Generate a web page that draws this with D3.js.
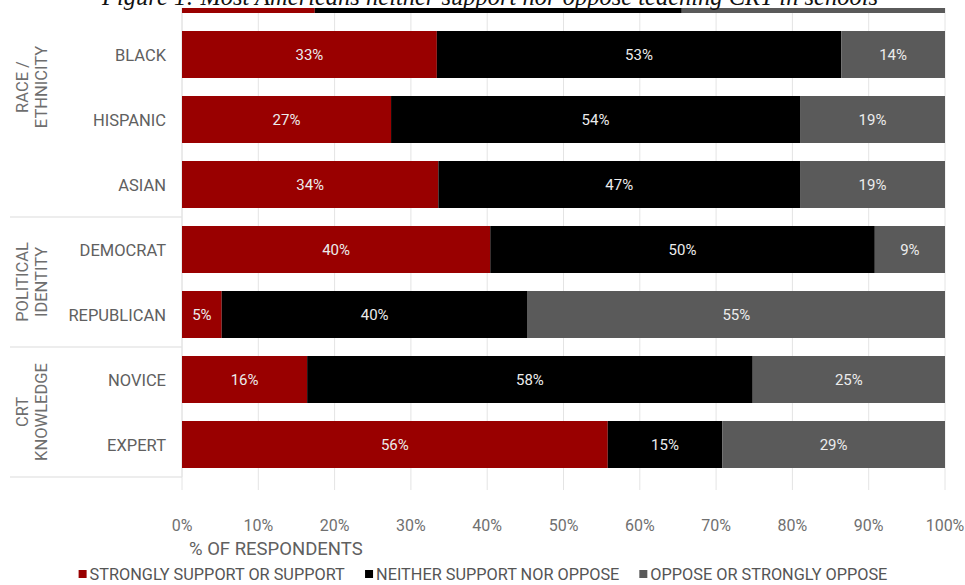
<!DOCTYPE html>
<html>
<head>
<meta charset="utf-8">
<script src="https://cdn.jsdelivr.net/npm/d3@7/dist/d3.min.js"></script>
<style>
  html, body { margin: 0; padding: 0; background: #fff; }
  svg { display: block; }
</style>
</head>
<body>
<svg id="chart" width="965" height="585"></svg>
<script>
// ---- data ----
const categories = ["WHITE", "BLACK", "HISPANIC", "ASIAN", "DEMOCRAT", "REPUBLICAN", "NOVICE", "EXPERT"];
const support = [17.4, 33.4, 27.4, 33.6, 40.4, 5.2, 16.4, 55.8];
const neither = [48.1, 53.0, 53.6, 47.4, 50.4, 40.1, 58.4, 15.0];
const oppose  = [34.5, 13.6, 19.0, 19.0, 9.2, 54.7, 25.2, 29.2];
const seriesNames = ["STRONGLY SUPPORT OR SUPPORT", "NEITHER SUPPORT NOR OPPOSE", "OPPOSE OR STRONGLY OPPOSE"];
const groupLabels = [["RACE /", "ETHNICITY"], ["POLITICAL", "IDENTITY"], ["CRT", "KNOWLEDGE"]];
const groupStart = ["WHITE", "DEMOCRAT", "NOVICE"];
const groupEnd = ["ASIAN", "REPUBLICAN", "EXPERT"];
const tickValues = [0, 10, 20, 30, 40, 50, 60, 70, 80, 90, 100];
const titleText = "Figure 1: Most Americans neither support nor oppose teaching CRT in schools";
const axisTitle = "% OF RESPONDENTS";

// ---- setup ----
const colors = ["#990000", "#000000", "#5a5a5a"];
const svg = d3.select("#chart");
const font = "Roboto, 'Noto Sans', sans-serif";

const x = d3.scaleLinear().domain([0, 100]).range([182, 945]);
const y = d3.scaleBand().domain(categories).range([-43, 477])
  .paddingInner(0.277).paddingOuter(0.1385);

const rows = categories.map((c, i) => ({ cat: c, v: [support[i], neither[i], oppose[i]] }));
const stack = d3.stack().keys([0, 1, 2]).value((d, k) => d.v[k]);
const stacked = stack(rows);

// gridlines
svg.append("g").selectAll("line").data(tickValues).join("line")
  .attr("x1", d => x(d)).attr("x2", d => x(d))
  .attr("y1", 0).attr("y2", 490)
  .attr("stroke", "#e4e4e4").attr("stroke-width", 1);

// left panel lines
const panel = svg.append("g");
const sepYs = groupEnd.map(c => y(c) + y.bandwidth() + y.step() * y.paddingInner() / 2);
panel.selectAll("line.sep").data(sepYs).join("line").attr("class", "sep")
  .attr("x1", 10).attr("x2", x(0)).attr("y1", d => d).attr("y2", d => d)
  .attr("stroke", "#dcdcdc").attr("stroke-width", 1.2);
panel.append("line").attr("x1", x(0)).attr("x2", x(0)).attr("y1", 0).attr("y2", sepYs[2])
  .attr("stroke", "#e4e4e4");

// bars
const layers = svg.append("g").selectAll("g").data(stacked).join("g")
  .attr("fill", (d, i) => colors[i]);
layers.selectAll("rect").data(d => d).join("rect")
  .attr("x", d => x(d[0]))
  .attr("width", d => x(d[1]) - x(d[0]))
  .attr("y", d => y(d.data.cat))
  .attr("height", y.bandwidth());

// value labels
layers.selectAll("text").data(d => d).join("text")
  .attr("x", d => (x(d[0]) + x(d[1])) / 2)
  .attr("y", d => y(d.data.cat) + y.bandwidth() / 2 + 5)
  .attr("text-anchor", "middle")
  .attr("fill", "#ececec")
  .style("font-family", font).style("font-size", "15px")
  .text(d => Math.round(d[1] - d[0]) + "%");

// category labels
svg.append("g").selectAll("text").data(categories).join("text")
  .attr("x", 166)
  .attr("y", d => y(d) + y.bandwidth() / 2 + 6)
  .attr("text-anchor", "end")
  .attr("fill", "#606060")
  .style("font-family", font).style("font-size", "16.5px")
  .text(d => d);

// group labels
groupLabels.forEach((lines, gi) => {
  const top = y(groupStart[gi]);
  const bot = y(groupEnd[gi]) + y.bandwidth();
  const cy = (top + bot) / 2;
  const g = svg.append("g").attr("transform", `translate(0,${cy}) rotate(-90)`);
  g.selectAll("text").data(lines).join("text")
    .attr("x", 0)
    .attr("y", (d, i) => 28 + i * 19)
    .attr("text-anchor", "middle")
    .attr("fill", "#6e6e6e")
    .style("font-family", font).style("font-size", "16.5px")
    .text(d => d);
});

// x axis tick labels
svg.append("g").selectAll("text").data(tickValues).join("text")
  .attr("x", d => x(d))
  .attr("y", 531)
  .attr("text-anchor", "middle")
  .attr("fill", "#707070")
  .style("font-family", font).style("font-size", "16px")
  .text(d => d + "%");

svg.append("text")
  .attr("x", 189).attr("y", 555)
  .attr("fill", "#606060")
  .style("font-family", font).style("font-size", "18.5px")
  .text(axisTitle);

// legend
const legend = svg.append("g");
const items = legend.selectAll("g").data(seriesNames).join("g");
items.append("rect").attr("width", 8).attr("height", 8).attr("y", -10)
  .attr("fill", (d, i) => colors[i]);
items.append("text").attr("x", 11).attr("y", 0)
  .attr("fill", "#555")
  .style("font-family", font).style("font-size", "16.3px")
  .text(d => d);
const widths = [];
items.each(function () { widths.push(this.getBBox().width); });
const gap = 20;
const total = d3.sum(widths) + gap * (widths.length - 1);
let cx = 483 - total / 2;
items.attr("transform", (d, i) => {
  const t = `translate(${cx},580)`;
  cx += widths[i] + gap;
  return t;
});

// title (cropped at top)
svg.append("rect").attr("x", 0).attr("y", 0).attr("width", 965).attr("height", 8).attr("fill", "#fff");
svg.append("text")
  .attr("x", 490).attr("y", 5)
  .attr("text-anchor", "middle")
  .attr("fill", "#111")
  .style("font-family", "'Liberation Serif', 'DejaVu Serif', serif")
  .style("font-style", "italic")
  .style("font-size", "24.5px")
  .text(titleText);
</script>
</body>
</html>
